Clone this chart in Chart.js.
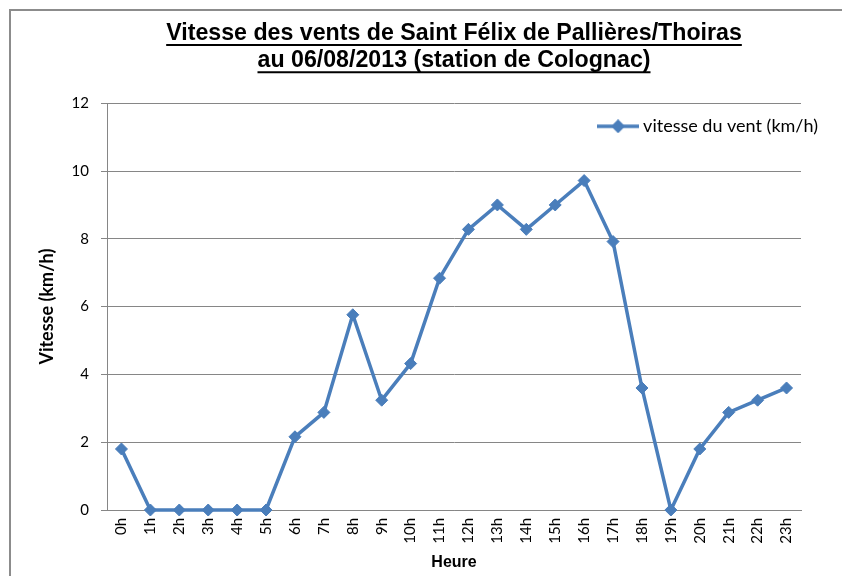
<!DOCTYPE html>
<html lang="fr">
<head>
<meta charset="utf-8">
<script src="https://cdn.jsdelivr.net/npm/chart.js@4"></script>
<style>
  html, body { margin: 0; padding: 0; background: #ffffff; }
  #graphique-wrap { width: 842px; height: 576px; }
</style>
</head>
<body>
<div id="graphique-wrap"><canvas id="graphique" width="842" height="576"></canvas></div>
<script>
  // Données (vitesse du vent heure par heure)
  const heures = ['0h', '1h', '2h', '3h', '4h', '5h', '6h', '7h', '8h', '9h', '10h', '11h',
                  '12h', '13h', '14h', '15h', '16h', '17h', '18h', '19h', '20h', '21h', '22h', '23h'];
  const vitesse = [1.8, 0, 0, 0, 0, 0, 2.16, 2.88, 5.76, 3.24, 4.32, 6.84,
                   8.28, 9, 8.28, 9, 9.72, 7.92, 3.6, 0, 1.8, 2.88, 3.24, 3.6];
  const titre = ['Vitesse des vents de Saint Félix de Pallières/Thoiras', 'au 06/08/2013 (station de Colognac)'];

  const bleu = '#4a7ebb';
  const gris = '#868686';

  Chart.defaults.font.family = 'Lato, "Open Sans", sans-serif';
  Chart.defaults.color = '#000000';

  // Icône de légende : trait + losange
  const icone = document.createElement('canvas');
  icone.width = 42;
  icone.height = 14;
  const ic = icone.getContext('2d');
  ic.strokeStyle = bleu;
  ic.lineWidth = 3.5;
  ic.beginPath();
  ic.moveTo(0, 7);
  ic.lineTo(42, 7);
  ic.stroke();
  ic.fillStyle = bleu;
  ic.beginPath();
  ic.moveTo(14, 7);
  ic.lineTo(21, 0);
  ic.lineTo(28, 7);
  ic.lineTo(21, 14);
  ic.closePath();
  ic.fill();

  // Cadre + soulignement du titre + légende placée en haut à droite
  const habillage = {
      id: 'habillage',
      beforeDraw(chart) {
          const ctx = chart.ctx;
          ctx.save();
          ctx.fillStyle = '#ffffff';
          ctx.fillRect(0, 0, chart.width, chart.height);
          ctx.strokeStyle = '#8c8c8c';
          ctx.lineWidth = 2;
          ctx.beginPath();
          ctx.moveTo(10, chart.height);
          ctx.lineTo(10, 10);
          ctx.lineTo(chart.width, 10);
          ctx.stroke();
          ctx.restore();
      },
      afterLayout(chart) {
          const lg = chart.legend;
          const w = lg.width;
          const h = lg.height;
          lg.left = chart.chartArea.right - w + 27;
          lg.right = lg.left + w;
          lg.top = chart.chartArea.top;
          lg.bottom = lg.top + h;
      },
      afterDraw(chart) {
          const tb = chart.titleBlock;
          const opts = chart.options.plugins.title;
          const ctx = chart.ctx;
          const f = opts.font;
          const lh = f.size * f.lineHeight;
          const cx = (tb.left + tb.right) / 2;
          ctx.save();
          ctx.font = 'bold ' + f.size + 'px ' + f.family;
          ctx.strokeStyle = '#000000';
          ctx.lineWidth = 2;
          titre.forEach((ligne, i) => {
              const w = ctx.measureText(ligne).width;
              const y = tb.top + opts.padding.top + lh * (i + 0.5) + 11.5;
              ctx.beginPath();
              ctx.moveTo(cx - w / 2, y);
              ctx.lineTo(cx + w / 2, y);
              ctx.stroke();
          });
          ctx.restore();
      }
  };

  new Chart(document.getElementById('graphique'), {
      type: 'line',
      data: {
          labels: heures,
          datasets: [{
              label: 'vitesse du vent (km/h)',
              data: vitesse,
              borderColor: bleu,
              backgroundColor: bleu,
              borderWidth: 3.5,
              tension: 0,
              pointStyle: 'rectRot',
              pointRadius: 6,
              pointBorderWidth: 1,
              pointBorderColor: bleu,
              pointBackgroundColor: bleu,
              clip: false
          }]
      },
      options: {
          responsive: false,
          animation: false,
          layout: {
              padding: { left: 10, right: 41, top: 0, bottom: 0 }
          },
          plugins: {
              title: {
                  display: true,
                  fullSize: false,
                  text: titre,
                  color: '#000000',
                  font: { family: '"Liberation Sans", Arial, sans-serif', size: 23.2, weight: 'bold', lineHeight: 1.17 },
                  padding: { top: 20, bottom: 29 }
              },
              legend: {
                  position: 'chartArea',
                  align: 'start',
                  labels: {
                      usePointStyle: true,
                      pointStyleWidth: 32,
                      padding: 14,
                      color: '#000000',
                      font: { size: 18 },
                      generateLabels(chart) {
                          const items = Chart.defaults.plugins.legend.labels.generateLabels(chart);
                          items.forEach(it => { it.pointStyle = icone; });
                          return items;
                      }
                  }
              },
              tooltip: { enabled: false }
          },
          scales: {
              x: {
                  offset: true,
                  grid: { display: false, drawTicks: false },
                  border: { color: gris, width: 1 },
                  ticks: {
                      minRotation: 90,
                      maxRotation: 90,
                      autoSkip: false,
                      padding: 8,
                      color: '#000000',
                      font: { size: 15 }
                  },
                  title: {
                      display: true,
                      text: 'Heure',
                      color: '#000000',
                      font: { family: '"Liberation Sans Narrow", "Liberation Sans", Arial, sans-serif', size: 16, weight: 'bold' },
                      padding: { top: 0, bottom: 4 }
                  },
                  afterFit(scale) { scale.height = 66; }
              },
              y: {
                  min: 0,
                  max: 12,
                  ticks: {
                      stepSize: 2,
                      padding: 12,
                      color: '#000000',
                      font: { size: 15 }
                  },
                  grid: { color: gris, lineWidth: 1, tickLength: 6 },
                  border: { color: gris, width: 1 },
                  title: {
                      display: true,
                      text: 'Vitesse (km/h)',
                      color: '#000000',
                      font: { size: 18, weight: 'bold' },
                      padding: { top: 26, bottom: 0 }
                  },
                  afterFit(scale) { scale.width = 97; }
              }
          }
      },
      plugins: [habillage]
  });
</script>
</body>
</html>
